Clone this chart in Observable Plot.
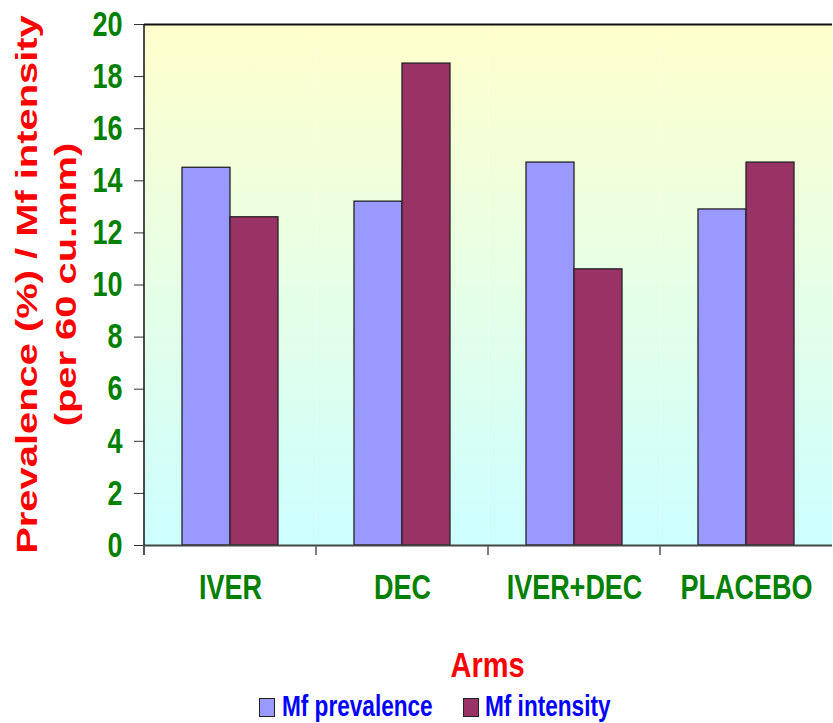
<!DOCTYPE html>
<html><head><meta charset="utf-8">
<script src="https://cdn.jsdelivr.net/npm/d3@7"></script>
<script src="https://cdn.jsdelivr.net/npm/@observablehq/plot@0.6"></script>
<style>
body{margin:0;background:#fff;font-family:"Liberation Sans",Arial,sans-serif;}
#wrap{position:relative;width:833px;}
#legend{position:relative;height:37px;width:833px;}
.sw{position:absolute;width:16px;height:19px;border:1px solid #222;box-sizing:border-box;}
.lt{position:absolute;font-size:22.6px;font-weight:bold;color:#0000ff;line-height:26px;transform:scaleY(1.3);transform-origin:0 50%;white-space:nowrap;}
</style></head><body><div id="wrap"></div>
<script>
const arms = ["IVER", "DEC", "IVER+DEC", "PLACEBO"];
const seriesNames = ["Mf prevalence", "Mf intensity"];
const prevalence = [14.5, 13.2, 14.7, 12.9];
const intensity = [12.6, 18.5, 10.6, 14.7];
const yTicks = [0, 2, 4, 6, 8, 10, 12, 14, 16, 18, 20];
const seriesColors = ["#9999ff", "#993366"];
const yTitle = ["Prevalence (%) / Mf intensity", "(per 60 cu.mm)"];
const xTitle = "Arms";

const data = arms.flatMap((a, i) => [
  {arm: a, series: seriesNames[0], value: prevalence[i]},
  {arm: a, series: seriesNames[1], value: intensity[i]}
]);

const W = 833, H = 686;
const plot = Plot.plot({
  width: W, height: H,
  marginLeft: 143, marginRight: 0, marginTop: 24, marginBottom: 141,
  style: {fontFamily: '"Liberation Sans", Arial, sans-serif', background: "white"},
  fx: {domain: arms, padding: 0, axis: null, label: null},
  x: {domain: seriesNames, paddingInner: 0, paddingOuter: 0.76, axis: null},
  y: {domain: [0, 20], axis: null},
  color: {domain: seriesNames, range: seriesColors},
  marks: [
    Plot.frame({fill: "url(#bg)", stroke: null}),
    Plot.barY(data, {fx: "arm", x: "series", y: "value", fill: "series", stroke: "#222", strokeWidth: 1.3}),
    Plot.ruleY([20], {stroke: "#111", strokeWidth: 2}),
    Plot.ruleY([0], {stroke: "#444", strokeWidth: 2}),
    Plot.axisY({ticks: yTicks, tickFormat: d => String(d), tickSize: 10, tickPadding: 12,
      stroke: "#333", fill: "#008000", fontSize: 27, fontWeight: "bold", label: null}),
    Plot.text(arms, {fx: d => d, text: d => d, frameAnchor: "bottom", dy: 53,
      fill: "#008000", fontSize: 27, fontWeight: "bold"})
  ]
});

const svg = d3.select(plot);
const defs = svg.insert("defs", ":first-child");
const grad = defs.append("linearGradient").attr("id", "bg").attr("x1", 0).attr("y1", 0).attr("x2", 0).attr("y2", 1);
grad.append("stop").attr("offset", "0%").attr("stop-color", "#ffffcc");
grad.append("stop").attr("offset", "100%").attr("stop-color", "#ccffff");

// vertical stretch of horizontal text (the reference text is tall and narrow)
function stretch(sel, s) {
  sel.each(function() {
    const t = this.getAttribute("transform");
    if (t) {
      this.setAttribute("transform", t + ` scale(1,${s})`);
    } else {
      const x = +this.getAttribute("x") || 0, y = +this.getAttribute("y") || 0;
      this.removeAttribute("x"); this.removeAttribute("y");
      this.setAttribute("transform", `translate(${x},${y}) scale(1,${s})`);
    }
  });
}
stretch(svg.selectAll('g[aria-label="y-axis tick label"] text, g[aria-label="text"] text'), 1.3);

const fx = plot.scale("fx"), y = plot.scale("y");
const y0 = y.apply(0), yTop = y.apply(20);
const left = fx.apply(arms[0]);
const deco = svg.append("g");
deco.append("line").attr("x1", left).attr("x2", left).attr("y1", yTop).attr("y2", y0 + 10)
  .attr("stroke", "#111").attr("stroke-width", 1.5);
arms.forEach(a => {
  const x = fx.apply(a);
  deco.append("line").attr("x1", x).attr("x2", x).attr("y1", y0).attr("y2", y0 + 10)
    .attr("stroke", "#555").attr("stroke-width", 1.5);
});

const yc = (y0 + yTop) / 2;
[[37, yTitle[0]], [76, yTitle[1]]].forEach(([bx, txt]) => {
  svg.append("text").attr("transform", `translate(${bx},${yc}) rotate(-90) scale(1.33,1)`)
    .attr("text-anchor", "middle").attr("fill", "#ff0000").attr("font-size", 30)
    .attr("font-weight", "bold").text(txt);
});
const xc = (left + W) / 2;
svg.append("text").attr("transform", `translate(${xc - 1},677) scale(1,1.2)`)
  .attr("text-anchor", "middle").attr("fill", "#ff0000").attr("font-size", 29)
  .attr("font-weight", "bold").text(xTitle);

const wrap = document.getElementById("wrap");
wrap.appendChild(plot);

const legend = document.createElement("div");
legend.id = "legend";
const items = [[259, 282], [463, 485]];
seriesNames.forEach((name, i) => {
  const sw = document.createElement("div");
  sw.className = "sw";
  sw.style.left = items[i][0] + "px";
  sw.style.top = "12px";
  sw.style.background = seriesColors[i];
  legend.appendChild(sw);
  const t = document.createElement("span");
  t.className = "lt";
  t.style.left = items[i][1] + "px";
  t.style.top = "8px";
  t.textContent = name;
  legend.appendChild(t);
});
wrap.appendChild(legend);
</script></body></html>
